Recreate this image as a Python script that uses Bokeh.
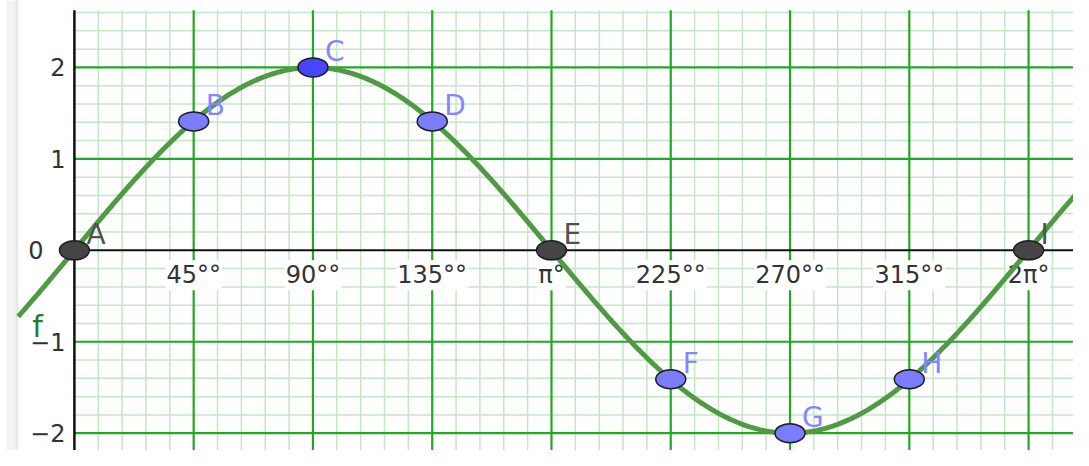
import numpy as np
from bokeh.plotting import figure
from bokeh.models import Range1d, ColumnDataSource
from bokeh.core.properties import value
from bokeh.embed import file_html
from bokeh.resources import INLINE

# ---- data ----
amplitude = 2.0                      # f(x) = 2 sin(x)
point_names = ["A", "B", "C", "D", "E", "F", "G", "H", "I"]
point_x = [0, 45, 90, 135, 180, 225, 270, 315, 360]
point_y = [0, 1.41, 2, 1.41, 0, -1.41, -2, -1.41, 0]
point_kind = ["fixed", "free", "selected", "free", "fixed", "free", "free", "free", "fixed"]
x_ticks = [45, 90, 135, 180, 225, 270, 315, 360]
x_tick_labels = ["45°°", "90°°", "135°°", "π°", "225°°", "270°°", "315°°", "2π°"]
y_ticks = [-2, -1, 0, 1, 2]
y_tick_labels = ["−2", "−1", "0", "1", "2"]
curve_label = "f"

# ---- view (whole graphics view fitted into the figure) ----
x_lo, x_hi = -27.88, 376.95
y_lo, y_hi = -2.189, 2.732
grid_top = 2.626
strip_left, strip_mid, strip_edge = -25.65, -22.3, -21.2

p = figure(width=1073, height=450, x_range=Range1d(x_lo, x_hi), y_range=Range1d(y_lo, y_hi),
           x_axis_type=None, y_axis_type=None, toolbar_location=None,
           output_backend="svg", min_border=0)
p.outline_line_color = None
p.background_fill_color = "white"
p.border_fill_color = "white"

# grey side strip
p.quad(left=[strip_left], right=[strip_mid], bottom=[y_lo - 1], top=[y_hi + 1],
       fill_color="#f3f3f3", line_color=None)
p.quad(left=[strip_mid], right=[strip_edge], bottom=[y_lo - 1], top=[y_hi + 1],
       fill_color="#e7e7e7", line_color=None)

# grid lines (only right of the y axis)
minor_x = [v for v in np.arange(9, x_hi + 9, 9) if v % 45 != 0]
major_x = [v for v in np.arange(45, x_hi + 9, 45)]
ys_all = np.round(np.arange(-2.2, grid_top, 0.2), 1)
minor_y = [v for v in ys_all if abs(v - round(v)) > 1e-6]
major_y = [v for v in y_ticks if v != 0]

p.segment(x0=minor_x, x1=minor_x, y0=[y_lo - 1] * len(minor_x), y1=[grid_top] * len(minor_x),
          line_color="#c4e6c4", line_width=1.5)
p.segment(x0=[0] * len(minor_y), x1=[x_hi + 5] * len(minor_y), y0=minor_y, y1=minor_y,
          line_color="#c4e6c4", line_width=1.5)
p.segment(x0=major_x, x1=major_x, y0=[y_lo - 1] * len(major_x), y1=[grid_top] * len(major_x),
          line_color="#22a822", line_width=2.2)
p.segment(x0=[0] * len(major_y), x1=[x_hi + 5] * len(major_y), y0=major_y, y1=major_y,
          line_color="#22a822", line_width=2.2)

# axes lines
p.segment(x0=[0], x1=[x_hi + 5], y0=[0], y1=[0], line_color="#111111", line_width=2)
p.segment(x0=[0], x1=[0], y0=[y_lo - 1], y1=[grid_top], line_color="#111111", line_width=2.5)

# x tick labels (white background)
p.text(x=x_ticks, y=[0] * len(x_ticks), text=x_tick_labels,
       text_font=value("DejaVu Sans"), text_font_size=value("24px"), text_color="#333333",
       text_align="center", text_baseline="top", y_offset=10,
       background_fill_color="white", padding=1)

# y tick labels
yl_src = ColumnDataSource(dict(
    x=[0] * len(y_ticks), y=y_ticks, text=y_tick_labels,
    xo=[-31 if t == 0 else -9 for t in y_ticks]))
p.text(x="x", y="y", text="text", source=yl_src, x_offset="xo",
       text_font=value("DejaVu Sans"), text_font_size=value("24px"), text_color="#333333",
       text_align="right", text_baseline="middle")

# curve
xc = np.linspace(strip_edge, x_hi + 5, 900)
yc = amplitude * np.sin(np.radians(xc))
p.line(xc, yc, line_color="#4f9b43", line_width=5)

# curve label
p.text(x=[strip_edge], y=[amplitude * np.sin(np.radians(strip_edge))], text=[curve_label],
       text_font=value("DejaVu Sans"), text_font_size=value("30px"), text_color="#2c7a2c",
       text_align="left", text_baseline="alphabetic", x_offset=14, y_offset=10)

# points
fills = {"fixed": "#454545", "free": "#7c7cff", "selected": "#4646ff"}
lab_cols = {"fixed": "#505050", "free": "#8585ff", "selected": "#8585ff"}
src = ColumnDataSource(dict(x=point_x, y=point_y, name=point_names,
                            fill=[fills[k] for k in point_kind],
                            lc=[lab_cols[k] for k in point_kind]))
p.ellipse(x="x", y="y", width=30, height=19, width_units="screen", height_units="screen",
          source=src, fill_color="fill", line_color="#1c1c28", line_width=1.5)
p.text(x="x", y="y", text="name", source=src, text_color="lc",
       text_font=value("DejaVu Sans"), text_font_size=value("28px"),
       text_align="left", text_baseline="alphabetic", x_offset=12, y_offset=-16)

open("out.html", "w").write(file_html(p, INLINE))
